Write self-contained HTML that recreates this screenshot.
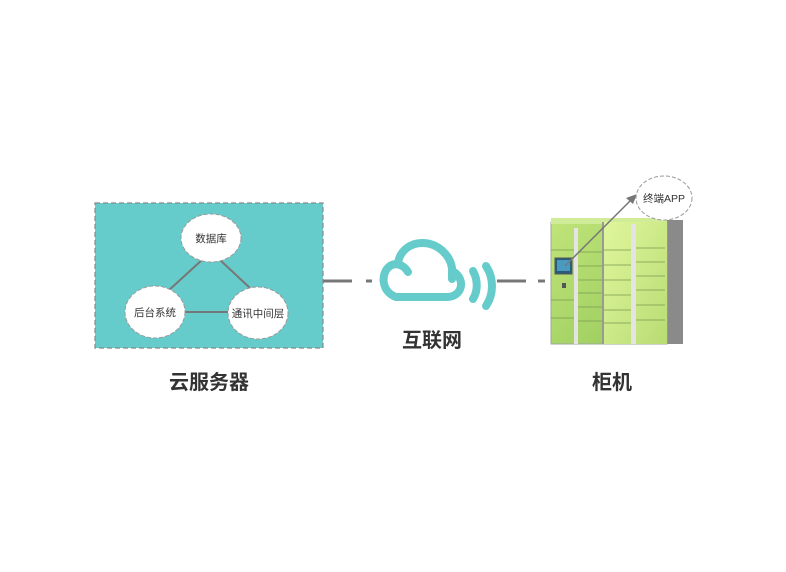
<!DOCTYPE html>
<html><head><meta charset="utf-8"><style>
body{margin:0;background:#fff;}
svg text{font-family:"Liberation Sans","Noto Sans CJK SC",sans-serif;}
</style></head><body>
<svg width="786" height="567" viewBox="0 0 786 567" xmlns="http://www.w3.org/2000/svg">
<defs>
<linearGradient id="g1" x1="0" y1="0" x2="1" y2="1">
<stop offset="0" stop-color="#c0e47a"/><stop offset="1" stop-color="#94c858"/>
</linearGradient>
<linearGradient id="g2" x1="0" y1="0" x2="1" y2="1">
<stop offset="0" stop-color="#e0f69c"/><stop offset="1" stop-color="#b8dc74"/>
</linearGradient>
</defs>
<rect x="95" y="203" width="228" height="145" fill="#66cccb" stroke="#888" stroke-width="1.2" stroke-dasharray="5,3"/>
<line x1="203" y1="259" x2="168" y2="291" stroke="#777" stroke-width="2"/>
<line x1="220" y1="260" x2="250" y2="288" stroke="#777" stroke-width="2"/>
<line x1="184" y1="312" x2="228" y2="312" stroke="#777" stroke-width="2"/>
<g stroke="#999" stroke-width="1" stroke-dasharray="4,2" fill="#fff">
<ellipse cx="211" cy="238" rx="30" ry="24"/>
<ellipse cx="155" cy="312" rx="30" ry="26"/>
<ellipse cx="258" cy="313" rx="30" ry="26"/>
</g>
<g font-size="10.5" fill="#333" text-anchor="middle">
<text x="211" y="242">数据库</text>
<text x="155" y="316">后台系统</text>
<text x="258" y="317">通讯中间层</text>
</g>
<g stroke="#777" stroke-width="3">
<line x1="323" y1="281" x2="352" y2="281"/><line x1="366" y1="281" x2="372" y2="281"/>
<line x1="497" y1="281" x2="526" y2="281"/><line x1="538" y1="281" x2="545" y2="281"/>
</g>
<g fill="none" stroke="#66cccb" stroke-width="8" stroke-linecap="round">
<path d="M408 272 C404 265,396 262,390 266 C381 272,380 291,396 297 L447 297 C462 297,466 280,454 272"/>
<path d="M398 263 C400 250,411 243,422 243 C438 243,450 255,452 268 L452 279"/>
<path d="M473 271 C478 280,478 291,473 299"/>
<path d="M486 266 C494 278,494 294,486 306"/>
</g>
<text x="432" y="347" font-size="20" font-weight="bold" fill="#333" text-anchor="middle">互联网</text>
<text x="209" y="389" font-size="20" font-weight="bold" fill="#333" text-anchor="middle">云服务器</text>
<text x="612" y="389" font-size="20" font-weight="bold" fill="#333" text-anchor="middle">柜机</text>
<!-- locker -->
<rect x="665" y="220" width="18" height="124" fill="#8a8a8a"/>
<rect x="551" y="222" width="116" height="122" fill="url(#g1)" stroke="#9a9" stroke-width="1"/>
<rect x="551" y="218" width="116" height="6" fill="#d0ec98"/>
<rect x="604" y="222" width="63" height="122" fill="url(#g2)"/>
<rect x="574" y="228" width="4" height="116" fill="#e4e4e4"/>
<rect x="631" y="224" width="5" height="120" fill="#e4e4e4"/>
<rect x="602" y="222" width="2" height="122" fill="#999"/>
<g stroke="#7a9a50" stroke-width="0.8">
<line x1="551" y1="250" x2="574" y2="250"/><line x1="551" y1="300" x2="574" y2="300"/><line x1="551" y1="318" x2="574" y2="318"/>
<line x1="578" y1="252" x2="602" y2="252"/><line x1="578" y1="266" x2="602" y2="266"/><line x1="578" y1="280" x2="602" y2="280"/><line x1="578" y1="293" x2="602" y2="293"/><line x1="578" y1="307" x2="602" y2="307"/><line x1="578" y1="321" x2="602" y2="321"/>
<line x1="604" y1="250" x2="631" y2="250"/><line x1="604" y1="265" x2="631" y2="265"/><line x1="604" y1="280" x2="631" y2="280"/><line x1="604" y1="295" x2="631" y2="295"/><line x1="604" y1="310" x2="631" y2="310"/><line x1="604" y1="323" x2="631" y2="323"/>
<line x1="636" y1="248" x2="665" y2="248"/><line x1="636" y1="262" x2="665" y2="262"/><line x1="636" y1="276" x2="665" y2="276"/><line x1="636" y1="290" x2="665" y2="290"/><line x1="636" y1="305" x2="665" y2="305"/><line x1="636" y1="320" x2="665" y2="320"/>
</g>
<rect x="555" y="258" width="17" height="16" fill="#2a5a7a" stroke="#555"/>
<rect x="557" y="260" width="13" height="11" fill="#4a9ac0"/>
<rect x="562" y="283" width="4" height="5" fill="#555"/>
<line x1="565" y1="266" x2="632" y2="199" stroke="#777" stroke-width="1.5"/>
<polygon points="637,194 626,198 633,204" fill="#777"/>
<ellipse cx="664" cy="198" rx="28" ry="22" fill="#fff" stroke="#999" stroke-dasharray="4,2"/>
<text x="664" y="202" font-size="10.5" fill="#333" text-anchor="middle">终端APP</text>
</svg>
</body></html>
